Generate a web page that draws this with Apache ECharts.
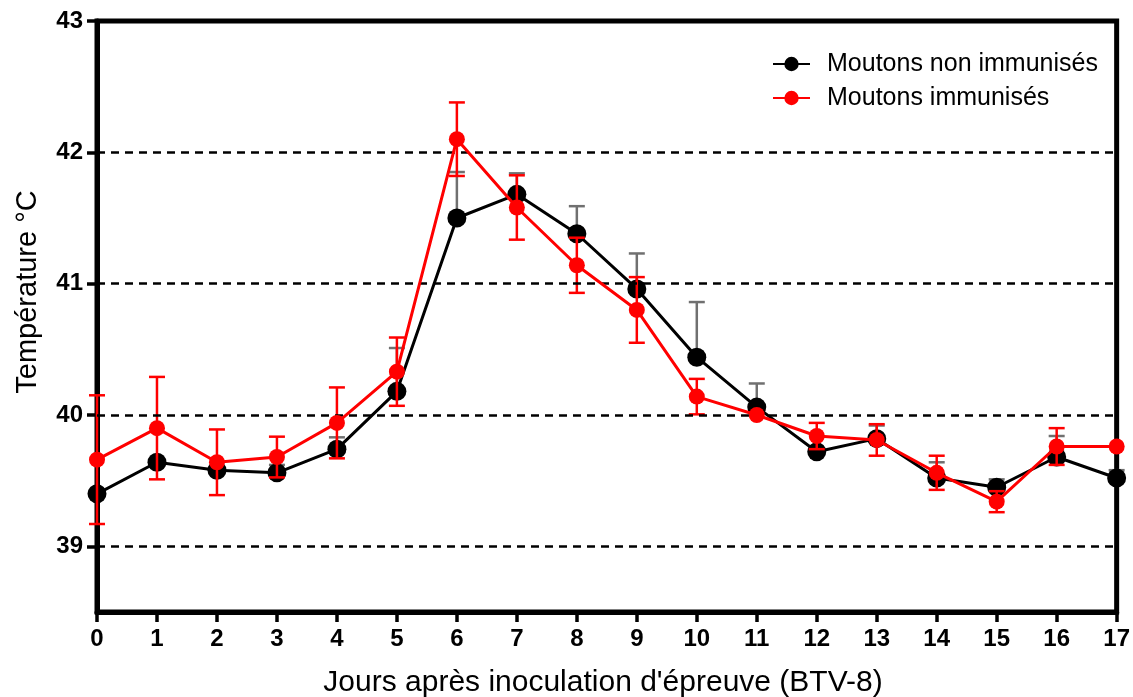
<!DOCTYPE html>
<html>
<head>
<meta charset="utf-8">
<script src="https://cdn.jsdelivr.net/npm/echarts@6/dist/echarts.min.js"></script>
<style>html,body{margin:0;padding:0;background:#fff;}#c{width:1133px;height:697px;}</style>
</head>
<body>
<div id="c"></div>
<script>
const days = [0,1,2,3,4,5,6,7,8,9,10,11,12,13,14,15,16,17];
const nonImm    = [39.40,39.64,39.58,39.56,39.74,40.18,41.50,41.68,41.38,40.96,40.44,40.06,39.72,39.82,39.52,39.45,39.68,39.52];
const nonImmErr = [0,0,0,0.06,0.09,0.33,0.35,0.16,0.21,0.27,0.42,0.18,0,0.10,0.12,0.06,0.16,0.06];
const imm       = [39.66,39.90,39.64,39.68,39.94,40.33,42.10,41.58,41.14,40.80,40.14,40.00,39.84,39.81,39.56,39.34,39.76,39.76];
const immErr    = [0.49,0.39,0.25,0.155,0.27,0.26,0.28,0.245,0.21,0.25,0.135,0,0.10,0.12,0.13,0.08,0.14,0];
const yTicks = [39,40,41,42,43];
const gridLevels = [39,40,41,42];
const nameNon = 'Moutons non immunisés';
const nameImm = 'Moutons immunisés';
const xTitle = "Jours après inoculation d'épreuve (BTV-8)";
const yTitle = 'Température °C';

const FONT = "'Liberation Sans', Arial, sans-serif";
const chart = echarts.init(document.getElementById('c'), null, {renderer:'canvas'});

function errBar(color, capHalf){
  return function(params, api){
    const x = api.value(0), lo = api.value(1), hi = api.value(2);
    if (hi - lo <= 1e-9) return {type:'group', children: []};
    const pLo = api.coord([x, lo]);
    const pHi = api.coord([x, hi]);
    const st = {stroke: color, lineWidth: 2.5};
    const children = [
      {type:'line', shape:{x1:pLo[0], y1:pLo[1], x2:pHi[0], y2:pHi[1]}, style: st},
      {type:'line', shape:{x1:pHi[0]-capHalf, y1:pHi[1], x2:pHi[0]+capHalf, y2:pHi[1]}, style: st},
      {type:'line', shape:{x1:pLo[0]-capHalf, y1:pLo[1], x2:pLo[0]+capHalf, y2:pLo[1]}, style: st}
    ];
    return {type:'group', children: children};
  };
}

const nonErrData = days.map((d,i)=>[d, nonImm[i], nonImm[i]+nonImmErr[i]]);
const immErrData = days.map((d,i)=>[d, imm[i]-immErr[i], imm[i]+immErr[i]]);

const option = {
  animation: false,
  backgroundColor: '#fff',
  grid: {left: 97, right: 15, top: 21, bottom: 85, show: true, borderColor: '#000', borderWidth: 5, backgroundColor: 'transparent'},
  legend: {
    data: [nameNon, nameImm],
    orient: 'vertical',
    left: 767, top: 46,
    itemWidth: 37, itemHeight: 18, itemGap: 8,
    textStyle: {fontFamily: FONT, fontSize: 25, color: '#000', lineHeight: 26, padding: [0,0,0,12]}
  },
  xAxis: {
    type: 'value', min: 0, max: 17, interval: 1,
    axisLine: {show: true, lineStyle: {color: '#000', width: 5}},
    axisTick: {show: true, inside: false, length: 10, lineStyle: {color: '#000', width: 3.5}},
    axisLabel: {fontFamily: FONT, fontSize: 24, fontWeight: 'bold', color: '#000', margin: 15},
    splitLine: {show: false}
  },
  yAxis: {
    type: 'value', min: 38.5, max: 43,
    axisLine: {show: true, lineStyle: {color: '#000', width: 5}},
    axisTick: {show: true, inside: false, length: 10, lineStyle: {color: '#000', width: 3.5}, customValues: yTicks},
    axisLabel: {fontFamily: FONT, fontSize: 24, fontWeight: 'bold', color: '#000', margin: 14, customValues: yTicks},
    splitLine: {show: false}
  },
  graphic: [
    {type: 'text', x: 28, y: 292, rotation: Math.PI/2,
     style: {text: yTitle, fontFamily: FONT, fontSize: 29, fill: '#000', align: 'center', verticalAlign: 'middle'}},
    {type: 'text', x: 603, y: 683,
     style: {text: xTitle, fontFamily: FONT, fontSize: 30, fill: '#000', align: 'center', verticalAlign: 'middle'}}
  ],
  series: [
    {
      name: 'grid', type: 'line', data: [], silent: true,
      markLine: {
        silent: true, symbol: 'none', label: {show: false},
        lineStyle: {color: '#000', width: 2.5, type: [8, 6]},
        data: gridLevels.map(v => ({yAxis: v}))
      }
    },
    {
      name: nameNon + ' err', type: 'custom', renderItem: errBar('#707070', 8),
      encode: {x: 0, y: [1, 2]}, data: nonErrData, z: 2
    },
    {
      name: nameNon, type: 'line', data: days.map((d,i)=>[d, nonImm[i]]),
      symbol: 'circle', symbolSize: 19, z: 3,
      lineStyle: {color: '#000', width: 3}, itemStyle: {color: '#000'}
    },
    {
      name: nameImm + ' err', type: 'custom', renderItem: errBar('#ff0000', 8),
      encode: {x: 0, y: [1, 2]}, data: immErrData, z: 4
    },
    {
      name: nameImm, type: 'line', data: days.map((d,i)=>[d, imm[i]]),
      symbol: 'circle', symbolSize: 16, z: 5,
      lineStyle: {color: '#ff0000', width: 3}, itemStyle: {color: '#ff0000'}
    }
  ]
};
chart.setOption(option);
</script>
</body>
</html>
